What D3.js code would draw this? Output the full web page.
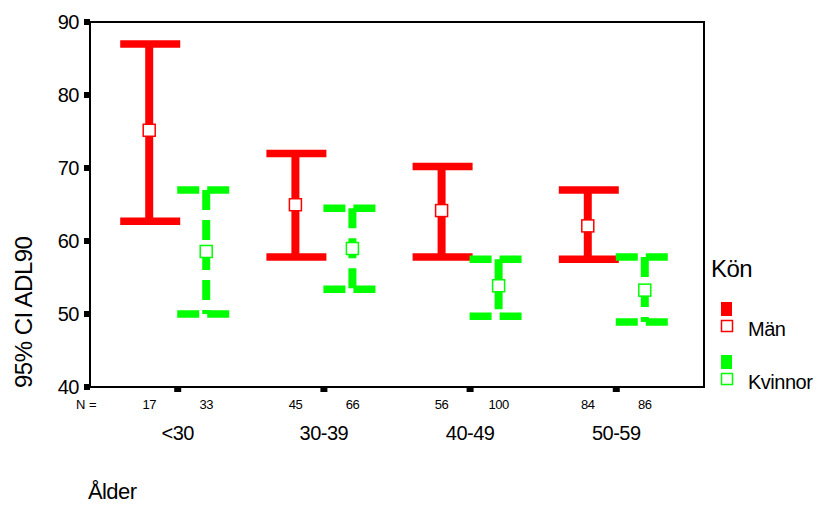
<!DOCTYPE html>
<html lang="sv">
<head>
<meta charset="utf-8">
<title>95% CI ADL90</title>
<style>
  body { margin: 0; background: #fff; }
  text { font-family: "Liberation Sans", Arial, sans-serif; fill: #000; }
  .frame { fill: none; stroke: #000; stroke-width: 2px; }
</style>
</head>
<body>
<div id="graphic"></div>
<script src="https://cdnjs.cloudflare.com/ajax/libs/d3/7.8.5/d3.min.js"></script>
<script>
var categories = ['<30', '30-39', '40-49', '50-59'];
var groups = ['Män', 'Kvinnor'];
var yTicks = [40, 50, 60, 70, 80, 90];

var menLow = [62.7, 57.8, 57.8, 57.5];
var menMean = [75.1, 64.9, 64.1, 62.0];
var menHigh = [87.0, 72.0, 70.2, 67.0];
var menN = [17, 45, 56, 84];

var womenLow = [50.0, 53.4, 49.7, 48.9];
var womenMean = [58.5, 58.9, 53.8, 53.2];
var womenHigh = [67.0, 64.5, 57.5, 57.8];
var womenN = [33, 66, 100, 86];

var width = 816, height = 505,
    plotL = 90, plotR = 704, plotT = 22, plotB = 387;

var colors = { 'Män': '#ff0000', 'Kvinnor': '#00ff00' };
var dashes = { 'Män': null, 'Kvinnor': { v: '20,10', h: '22,8' } };

var svg = d3.select('#graphic')
            .append('svg')
            .attr('width', width)
            .attr('height', height);

var y = d3.scaleLinear().domain([40, 90]).range([plotB, plotT]);
var x = d3.scalePoint().domain(categories).range([plotL, plotR]).padding(0.6);
var off = d3.scalePoint().domain(groups).range([-28.5, 28.5]);

// frame
svg.append('rect')
   .classed('frame', true)
   .attr('x', plotL)
   .attr('y', plotT)
   .attr('width', plotR - plotL)
   .attr('height', plotB - plotT);

// y ticks: small squares and labels
svg.append('g')
   .selectAll('rect')
   .data(yTicks)
   .enter()
   .append('rect')
   .attr('x', plotL - 6)
   .attr('y', function(d) { return y(d) - 3; })
   .attr('width', 6)
   .attr('height', 6)
   .attr('fill', '#000');

svg.append('g')
   .selectAll('text')
   .data(yTicks)
   .enter()
   .append('text')
   .attr('x', 79)
   .attr('y', function(d) { return y(d) + 7; })
   .attr('text-anchor', 'end')
   .attr('font-size', 20)
   .attr('letter-spacing', -0.5)
   .text(function(d) { return d; });

// x ticks
svg.append('g')
   .selectAll('rect')
   .data(categories)
   .enter()
   .append('rect')
   .attr('x', function(d) { return x(d) - 3.5; })
   .attr('y', plotB + 1)
   .attr('width', 7)
   .attr('height', 4)
   .attr('fill', '#000');

svg.append('g')
   .selectAll('text')
   .data(categories)
   .enter()
   .append('text')
   .attr('x', function(d) { return x(d); })
   .attr('y', 440)
   .attr('text-anchor', 'middle')
   .attr('font-size', 20)
   .attr('letter-spacing', -0.5)
   .text(function(d) { return d; });

// N row
svg.append('text')
   .attr('x', 76)
   .attr('y', 409)
   .attr('font-size', 13)
   .text('N =');

var rows = [];
categories.forEach(function(c, i) {
    rows.push({ cat: c, g: 'Män', low: menLow[i], mean: menMean[i], high: menHigh[i], n: menN[i] });
    rows.push({ cat: c, g: 'Kvinnor', low: womenLow[i], mean: womenMean[i], high: womenHigh[i], n: womenN[i] });
});

function cx(d) { return x(d.cat) + off(d.g); }

svg.append('g')
   .selectAll('text')
   .data(rows)
   .enter()
   .append('text')
   .attr('x', cx)
   .attr('y', 409)
   .attr('text-anchor', 'middle')
   .attr('font-size', 13)
   .attr('letter-spacing', -0.5)
   .text(function(d) { return d.n; });

// error bars
var bars = svg.append('g')
              .selectAll('g')
              .data(rows)
              .enter()
              .append('g');

bars.append('line')
    .attr('x1', cx).attr('x2', cx)
    .attr('y1', function(d) { return y(d.high); })
    .attr('y2', function(d) { return y(d.low); })
    .attr('stroke', function(d) { return colors[d.g]; })
    .attr('stroke-width', 8)
    .attr('stroke-dasharray', function(d) { return dashes[d.g] ? dashes[d.g].v : null; });

['high', 'low'].forEach(function(k) {
    bars.append('line')
        .attr('x1', function(d) { return cx(d) - 29; })
        .attr('x2', function(d) { return cx(d) + 31; })
        .attr('y1', function(d) { return y(d[k]); })
        .attr('y2', function(d) { return y(d[k]); })
        .attr('stroke', function(d) { return colors[d.g]; })
        .attr('stroke-width', 7.5)
        .attr('stroke-dasharray', function(d) { return dashes[d.g] ? dashes[d.g].h : null; });
});

bars.append('rect')
    .attr('x', function(d) { return cx(d) - 6; })
    .attr('y', function(d) { return y(d.mean) - 6.5; })
    .attr('width', 12)
    .attr('height', 12)
    .attr('fill', '#fff')
    .attr('stroke', function(d) { return colors[d.g]; })
    .attr('stroke-width', 1.5);

// axis titles
svg.append('text')
   .attr('transform', 'translate(32,388) rotate(-90)')
   .attr('font-size', 24)
   .attr('letter-spacing', -0.5)
   .text('95% CI ADL90');

svg.append('text')
   .attr('x', 88)
   .attr('y', 499)
   .attr('font-size', 22)
   .attr('letter-spacing', -0.6)
   .text('Ålder');

// legend
var legend = svg.append('g');
legend.append('text')
      .attr('x', 711)
      .attr('y', 277)
      .attr('font-size', 24)
      .attr('letter-spacing', -0.5)
      .text('Kön');

var items = legend.selectAll('g')
                  .data(groups)
                  .enter()
                  .append('g')
                  .attr('transform', function(d, i) { return 'translate(0,' + (i * 53) + ')'; });

items.append('rect')
     .attr('x', 721).attr('y', 302)
     .attr('width', 11).attr('height', 14)
     .attr('fill', function(d) { return colors[d]; });

items.append('rect')
     .attr('x', 721.5).attr('y', 320.5)
     .attr('width', 11).attr('height', 11)
     .attr('fill', '#fff')
     .attr('stroke', function(d) { return colors[d]; })
     .attr('stroke-width', 1.5);

items.append('text')
     .attr('x', 748)
     .attr('y', 336)
     .attr('font-size', 20)
     .attr('letter-spacing', -0.5)
     .text(function(d) { return d; });
</script>
</body>
</html>
